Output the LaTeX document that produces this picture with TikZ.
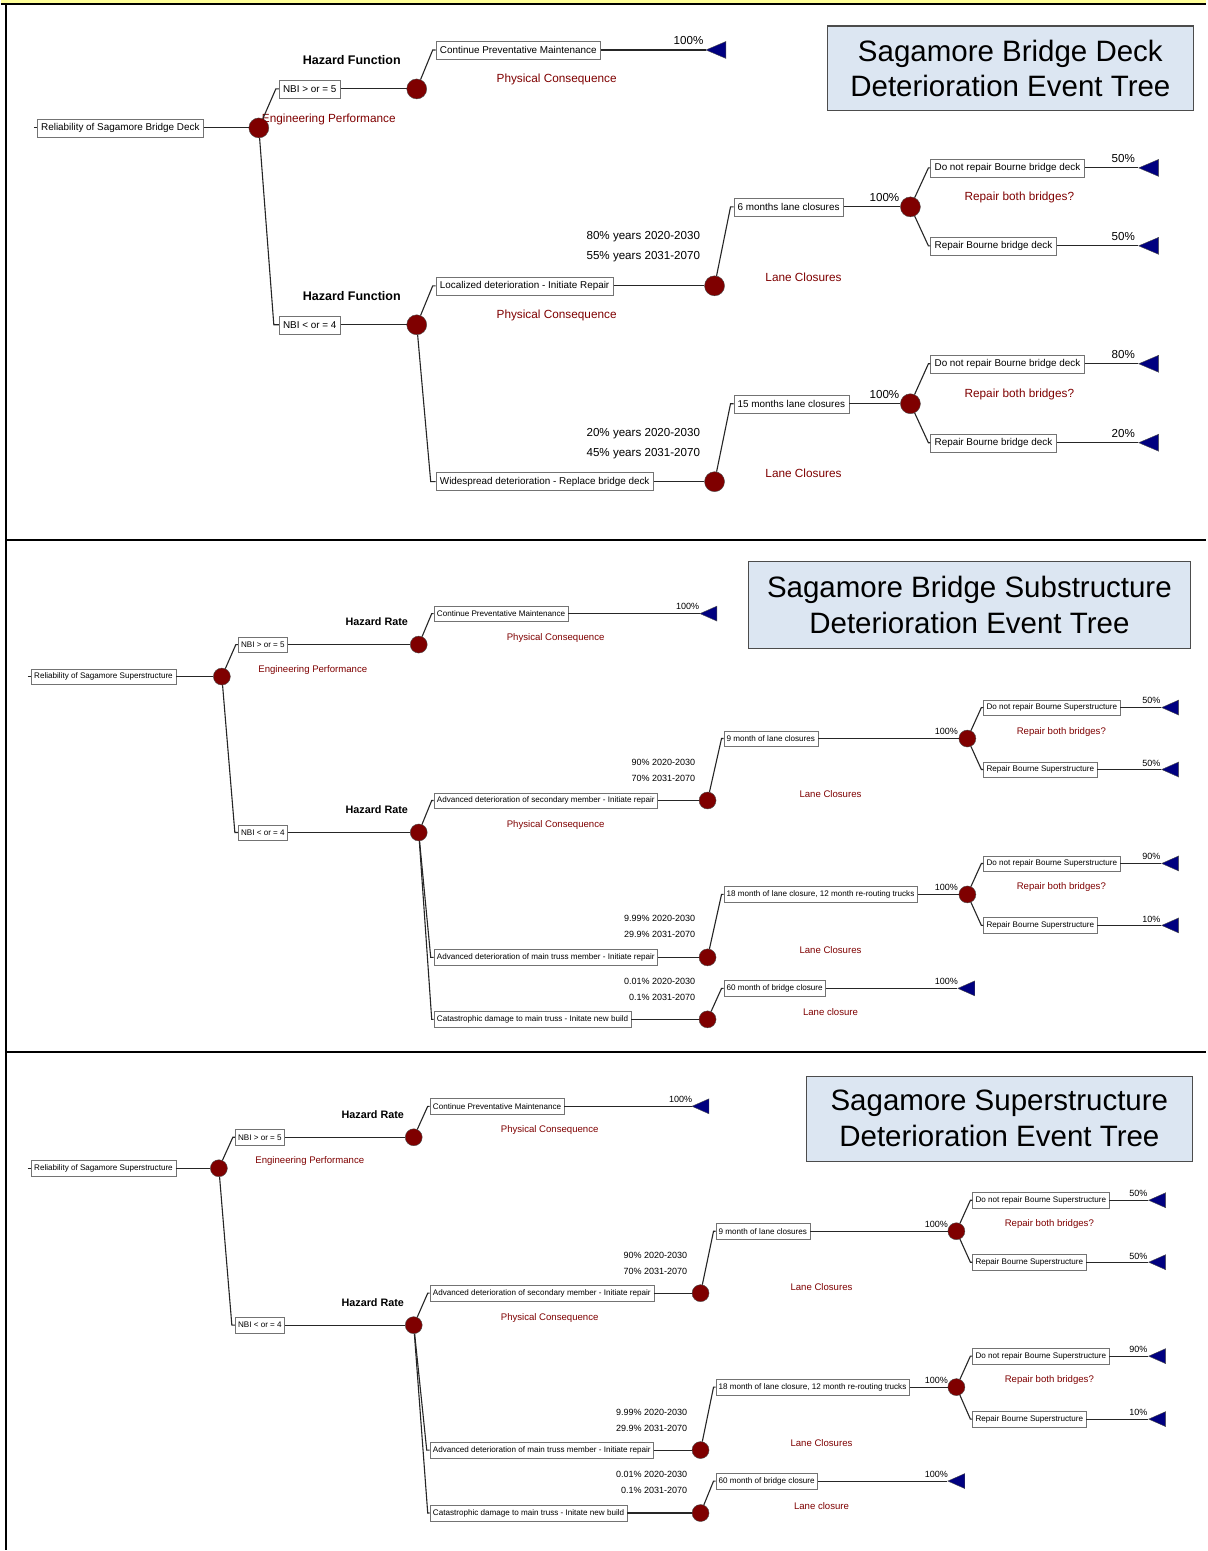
\documentclass[tikz,border=0pt]{standalone}
\usepackage{fontspec}
\setmainfont{Liberation Sans}
\usepackage{xcolor}
\definecolor{dark-red}{HTML}{7F0000}
\definecolor{deep-navy}{HTML}{000080}
\definecolor{pale-blue}{HTML}{DCE6F2}
\definecolor{pale-yellow}{HTML}{FFFF99}
\usepackage{tikz}
\usetikzlibrary{shapes.geometric}
\tikzset{br/.style = {draw=black!55, fill=white, anchor=west, inner xsep=4pt, inner ysep=0pt, minimum height=18pt, font=\fontsize{9.9}{11}\selectfont}}
\tikzset{brs/.style = {br, inner xsep=3pt, minimum height=15.5pt, font=\fontsize{8.1}{9}\selectfont}}
\tikzset{chance/.style = {circle, draw=black!70, fill=dark-red, minimum size=20pt, inner sep=0pt}}
\tikzset{chances/.style = {chance, minimum size=17pt}}
\tikzset{term/.style = {isosceles triangle, shape border rotate=180, isosceles triangle apex angle=60, isosceles triangle stretches, fill=deep-navy, draw=black!70, inner sep=0pt, minimum height=20pt, minimum width=17pt, anchor=apex}}
\tikzset{terms/.style = {term, minimum height=17pt, minimum width=15pt}}
\tikzset{cons/.style = {text=dark-red, font=\fontsize{11.8}{13}\selectfont}}
\tikzset{conss/.style = {text=dark-red, font=\fontsize{9.6}{11}\selectfont}}
\tikzset{haz/.style = {font=\bfseries\fontsize{12.5}{14}\selectfont}}
\tikzset{hazs/.style = {font=\bfseries\fontsize{10.8}{12}\selectfont}}
\tikzset{pct/.style = {font=\fontsize{11.6}{13}\selectfont}}
\tikzset{pcts/.style = {font=\fontsize{9}{10}\selectfont}}
\tikzset{prob/.style = {pct, anchor=east}}
\tikzset{probs/.style = {pcts, anchor=east}}
\tikzset{ln/.style = {line width=1.1pt, black!85}}
\tikzset{heading/.style = {draw=black!70, line width=1.1pt, fill=pale-blue, align=center, font=\fontsize{29.5}{36}\selectfont}}

\begin{document}
\begin{tikzpicture}[x=1pt, y=-1pt]

% frame
\fill[white] (0,0) rectangle (1206,1551);
\fill[pale-yellow] (0,0) rectangle (1206,4);
\draw[line width=2pt] (0,4.5) -- (1206,4.5);
\draw[line width=2pt] (5.5,4.5) -- (5.5,1551);
\draw[line width=2pt] (5.5,540) -- (1206,540);
\draw[line width=2pt] (5.5,1053) -- (1206,1053);

%%% deck tree
\node[heading, minimum width=366pt, minimum height=85pt] (dh) at (1010,68.5) {Sagamore Bridge Deck\\Deterioration Event Tree};

\coordinate (dk0) at (33,128);
\node[br] (db0) at (36,128) {Reliability of Sagamore Bridge Deck};
\node[chance] (dc0) at (258,128) {};
\coordinate (dk1) at (275,89);
\node[br] (db1) at (278,89) {NBI > or = 5};
\node[chance] (dc1) at (416,89) {};
\coordinate (dk2) at (432,50);
\node[br] (db2) at (435,50) {Continue Preventative Maintenance};
\node[term] (dt1) at (705,50) {};
\coordinate (dk3) at (273,325);
\node[br] (db3) at (278,325) {NBI < or = 4};
\node[chance] (dc2) at (416,325) {};
\coordinate (dk4) at (432,286);
\node[br] (db4) at (435,286) {Localized deterioration - Initiate Repair};
\node[chance] (dc3) at (714,286) {};
\coordinate (dk5) at (430,482);
\node[br] (db5) at (435,482) {Widespread deterioration - Replace bridge deck};
\node[chance] (dc4) at (714,482) {};
\coordinate (dk6) at (730,207);
\node[br] (db6) at (733,207) {6 months lane closures};
\node[chance] (dc5) at (910,207) {};
\coordinate (dk7) at (928,168);
\node[br] (db7) at (930,168) {Do not repair Bourne bridge deck};
\node[term] (dt2) at (1138,168) {};
\coordinate (dk8) at (928,246);
\node[br] (db8) at (930,246) {Repair Bourne bridge deck};
\node[term] (dt3) at (1138,246) {};
\coordinate (dk9) at (730,404);
\node[br] (db9) at (733,404) {15 months lane closures};
\node[chance] (dc6) at (910,404) {};
\coordinate (dk10) at (928,364);
\node[br] (db10) at (930,364) {Do not repair Bourne bridge deck};
\node[term] (dt4) at (1138,364) {};
\coordinate (dk11) at (928,443);
\node[br] (db11) at (930,443) {Repair Bourne bridge deck};
\node[term] (dt5) at (1138,443) {};

\node[haz] (dl1) at (351,60) {Hazard Function};
\node[haz] (dl2) at (351,296) {Hazard Function};
\node[cons] (dl3) at (328,120) {Engineering Performance};
\node[cons] (dl4) at (556,80) {Physical Consequence};
\node[cons] (dl5) at (556,316) {Physical Consequence};
\node[cons] (dl6) at (803,277) {Lane Closures};
\node[cons] (dl7) at (803,474) {Lane Closures};
\node[cons] (dl8) at (1019,198) {Repair both bridges?};
\node[cons] (dl9) at (1019,395) {Repair both bridges?};
\node[pct] (dp1) at (688,41) {100\%};
\node[pct] (dp2) at (884,198) {100\%};
\node[pct] (dp3) at (884,395) {100\%};
\node[pct] (dp4) at (1123,159) {50\%};
\node[pct] (dp5) at (1123,237) {50\%};
\node[pct] (dp6) at (1123,355) {80\%};
\node[pct] (dp7) at (1123,434) {20\%};
\node[prob] (dq1) at (703,237) {80\% years 2020-2030};
\node[prob] (dq2) at (703,257) {55\% years 2031-2070};
\node[prob] (dq3) at (703,434) {20\% years 2020-2030};
\node[prob] (dq4) at (703,454) {45\% years 2031-2070};

\draw[ln] (dk0) -- (db0.west);
\draw[ln] (db0) -- (dc0);
\draw[ln] (dc0) -- (dk1) -- (db1.west);
\draw[ln] (db1) -- (dc1);
\draw[ln] (dc1) -- (dk2) -- (db2.west);
\draw[ln] (db2) -- (dt1);
\draw[ln] (dc0) -- (dk3) -- (db3.west);
\draw[ln] (db3) -- (dc2);
\draw[ln] (dc2) -- (dk4) -- (db4.west);
\draw[ln] (db4) -- (dc3);
\draw[ln] (dc2) -- (dk5) -- (db5.west);
\draw[ln] (db5) -- (dc4);
\draw[ln] (dc3) -- (dk6) -- (db6.west);
\draw[ln] (db6) -- (dc5);
\draw[ln] (dc5) -- (dk7) -- (db7.west);
\draw[ln] (db7) -- (dt2);
\draw[ln] (dc5) -- (dk8) -- (db8.west);
\draw[ln] (db8) -- (dt3);
\draw[ln] (dc4) -- (dk9) -- (db9.west);
\draw[ln] (db9) -- (dc6);
\draw[ln] (dc6) -- (dk10) -- (db10.west);
\draw[ln] (db10) -- (dt4);
\draw[ln] (dc6) -- (dk11) -- (db11.west);
\draw[ln] (db11) -- (dt5);

%%% substructure tree
\node[heading, minimum width=442pt, minimum height=87pt] (sh) at (969,605.5) {Sagamore Bridge Substructure\\Deterioration Event Tree};

\coordinate (sk0) at (27,677);
\node[brs] (sb0) at (30,677) {Reliability of Sagamore Superstructure};
\node[chances] (sc0) at (221,677) {};
\coordinate (sk1) at (235,645);
\node[brs] (sb1) at (237,645) {NBI > or = 5};
\node[chances] (sc1) at (418,645) {};
\coordinate (sk2) at (431,614);
\node[brs] (sb2) at (433,614) {Continue Preventative Maintenance};
\node[terms] (st1) at (699,614) {};
\coordinate (sk3) at (234,833);
\node[brs] (sb3) at (237,833) {NBI < or = 4};
\node[chances] (sc2) at (418,833) {};
\coordinate (sk4) at (431,801);
\node[brs] (sb4) at (433,801) {Advanced deterioration of secondary member - Initiate repair};
\node[chances] (sc3) at (707,801) {};
\coordinate (sk5) at (430,958);
\node[brs] (sb5) at (433,958) {Advanced deterioration of main truss member - Initiate repair};
\node[chances] (sc4) at (707,958) {};
\coordinate (sk6) at (431,1020);
\node[brs] (sb6) at (433,1020) {Catastrophic damage to main truss - Initate new build};
\node[chances] (sc5) at (707,1020) {};
\coordinate (sk7) at (721,739);
\node[brs] (sb7) at (723,739) {9 month of lane closures};
\node[chances] (sc6) at (967,739) {};
\coordinate (sk8) at (981,708);
\node[brs] (sb8) at (983,708) {Do not repair Bourne Superstructure};
\node[terms] (st2) at (1161,708) {};
\coordinate (sk9) at (981,770);
\node[brs] (sb9) at (983,770) {Repair Bourne Superstructure};
\node[terms] (st3) at (1161,770) {};
\coordinate (sk10) at (721,895);
\node[brs] (sb10) at (723,895) {18 month of lane closure, 12 month re-routing trucks};
\node[chances] (sc7) at (967,895) {};
\coordinate (sk11) at (981,864);
\node[brs] (sb11) at (983,864) {Do not repair Bourne Superstructure};
\node[terms] (st4) at (1161,864) {};
\coordinate (sk12) at (981,926);
\node[brs] (sb12) at (983,926) {Repair Bourne Superstructure};
\node[terms] (st5) at (1161,926) {};
\coordinate (sk13) at (721,989);
\node[brs] (sb13) at (723,989) {60 month of bridge closure};
\node[terms] (st6) at (957,989) {};

\node[hazs] (sl1) at (376,622) {Hazard Rate};
\node[hazs] (sl2) at (376,810) {Hazard Rate};
\node[conss] (sl3) at (312,670) {Engineering Performance};
\node[conss] (sl4) at (555,638) {Physical Consequence};
\node[conss] (sl5) at (555,826) {Physical Consequence};
\node[conss] (sl6) at (830,795) {Lane Closures};
\node[conss] (sl7) at (830,951) {Lane Closures};
\node[conss] (sl8) at (830,1013) {Lane closure};
\node[conss] (sl9) at (1061,732) {Repair both bridges?};
\node[conss] (sl10) at (1061,888) {Repair both bridges?};
\node[pcts] (sp1) at (687,607) {100\%};
\node[pcts] (sp2) at (946,732) {100\%};
\node[pcts] (sp3) at (946,888) {100\%};
\node[pcts] (sp4) at (946,982) {100\%};
\node[pcts] (sp5) at (1151,701) {50\%};
\node[pcts] (sp6) at (1151,764) {50\%};
\node[pcts] (sp7) at (1151,857) {90\%};
\node[pcts] (sp8) at (1151,920) {10\%};
\node[probs] (sq1) at (698,763) {90\% 2020-2030};
\node[probs] (sq2) at (698,779) {70\% 2031-2070};
\node[probs] (sq3) at (698,919) {9.99\% 2020-2030};
\node[probs] (sq4) at (698,935) {29.9\% 2031-2070};
\node[probs] (sq5) at (698,982) {0.01\% 2020-2030};
\node[probs] (sq6) at (698,998) {0.1\% 2031-2070};

\draw[ln] (sk0) -- (sb0.west);
\draw[ln] (sb0) -- (sc0);
\draw[ln] (sc0) -- (sk1) -- (sb1.west);
\draw[ln] (sb1) -- (sc1);
\draw[ln] (sc1) -- (sk2) -- (sb2.west);
\draw[ln] (sb2) -- (st1);
\draw[ln] (sc0) -- (sk3) -- (sb3.west);
\draw[ln] (sb3) -- (sc2);
\draw[ln] (sc2) -- (sk4) -- (sb4.west);
\draw[ln] (sb4) -- (sc3);
\draw[ln] (sc2) -- (sk5) -- (sb5.west);
\draw[ln] (sb5) -- (sc4);
\draw[ln] (sc2) -- (sk6) -- (sb6.west);
\draw[ln] (sb6) -- (sc5);
\draw[ln] (sc3) -- (sk7) -- (sb7.west);
\draw[ln] (sb7) -- (sc6);
\draw[ln] (sc6) -- (sk8) -- (sb8.west);
\draw[ln] (sb8) -- (st2);
\draw[ln] (sc6) -- (sk9) -- (sb9.west);
\draw[ln] (sb9) -- (st3);
\draw[ln] (sc4) -- (sk10) -- (sb10.west);
\draw[ln] (sb10) -- (sc7);
\draw[ln] (sc7) -- (sk11) -- (sb11.west);
\draw[ln] (sb11) -- (st4);
\draw[ln] (sc7) -- (sk12) -- (sb12.west);
\draw[ln] (sb12) -- (st5);
\draw[ln] (sc5) -- (sk13) -- (sb13.west);
\draw[ln] (sb13) -- (st6);

%%% superstructure tree
\node[heading, minimum width=386pt, minimum height=85pt] (uh) at (999,1119.5) {Sagamore Superstructure\\Deterioration Event Tree};

\coordinate (uk0) at (27,1169);
\node[brs] (ub0) at (30,1169) {Reliability of Sagamore Superstructure};
\node[chances] (uc0) at (218,1169) {};
\coordinate (uk1) at (232,1138);
\node[brs] (ub1) at (234,1138) {NBI > or = 5};
\node[chances] (uc1) at (413,1138) {};
\coordinate (uk2) at (427,1107);
\node[brs] (ub2) at (429,1107) {Continue Preventative Maintenance};
\node[terms] (ut1) at (691,1107) {};
\coordinate (uk3) at (231,1326);
\node[brs] (ub3) at (234,1326) {NBI < or = 4};
\node[chances] (uc2) at (413,1326) {};
\coordinate (uk4) at (427,1294);
\node[brs] (ub4) at (429,1294) {Advanced deterioration of secondary member - Initiate repair};
\node[chances] (uc3) at (700,1294) {};
\coordinate (uk5) at (426,1451);
\node[brs] (ub5) at (429,1451) {Advanced deterioration of main truss member - Initiate repair};
\node[chances] (uc4) at (700,1451) {};
\coordinate (uk6) at (427,1514);
\node[brs] (ub6) at (429,1514) {Catastrophic damage to main truss - Initate new build};
\node[chances] (uc5) at (700,1514) {};
\coordinate (uk7) at (713,1232);
\node[brs] (ub7) at (715,1232) {9 month of lane closures};
\node[chances] (uc6) at (956,1232) {};
\coordinate (uk8) at (970,1201);
\node[brs] (ub8) at (972,1201) {Do not repair Bourne Superstructure};
\node[terms] (ut2) at (1148,1201) {};
\coordinate (uk9) at (970,1263);
\node[brs] (ub9) at (972,1263) {Repair Bourne Superstructure};
\node[terms] (ut3) at (1148,1263) {};
\coordinate (uk10) at (713,1388);
\node[brs] (ub10) at (715,1388) {18 month of lane closure, 12 month re-routing trucks};
\node[chances] (uc7) at (956,1388) {};
\coordinate (uk11) at (970,1357);
\node[brs] (ub11) at (972,1357) {Do not repair Bourne Superstructure};
\node[terms] (ut4) at (1148,1357) {};
\coordinate (uk12) at (970,1420);
\node[brs] (ub12) at (972,1420) {Repair Bourne Superstructure};
\node[terms] (ut5) at (1148,1420) {};
\coordinate (uk13) at (713,1482);
\node[brs] (ub13) at (715,1482) {60 month of bridge closure};
\node[terms] (ut6) at (947,1482) {};

\node[hazs] (ul1) at (372,1115) {Hazard Rate};
\node[hazs] (ul2) at (372,1303) {Hazard Rate};
\node[conss] (ul3) at (309,1162) {Engineering Performance};
\node[conss] (ul4) at (549,1131) {Physical Consequence};
\node[conss] (ul5) at (549,1319) {Physical Consequence};
\node[conss] (ul6) at (821,1288) {Lane Closures};
\node[conss] (ul7) at (821,1444) {Lane Closures};
\node[conss] (ul8) at (821,1507) {Lane closure};
\node[conss] (ul9) at (1049,1225) {Repair both bridges?};
\node[conss] (ul10) at (1049,1381) {Repair both bridges?};
\node[pcts] (up1) at (680,1100) {100\%};
\node[pcts] (up2) at (936,1225) {100\%};
\node[pcts] (up3) at (936,1381) {100\%};
\node[pcts] (up4) at (936,1475) {100\%};
\node[pcts] (up5) at (1138,1194) {50\%};
\node[pcts] (up6) at (1138,1257) {50\%};
\node[pcts] (up7) at (1138,1350) {90\%};
\node[pcts] (up8) at (1138,1413) {10\%};
\node[probs] (uq1) at (690,1256) {90\% 2020-2030};
\node[probs] (uq2) at (690,1272) {70\% 2031-2070};
\node[probs] (uq3) at (690,1413) {9.99\% 2020-2030};
\node[probs] (uq4) at (690,1429) {29.9\% 2031-2070};
\node[probs] (uq5) at (690,1475) {0.01\% 2020-2030};
\node[probs] (uq6) at (690,1491) {0.1\% 2031-2070};

\draw[ln] (uk0) -- (ub0.west);
\draw[ln] (ub0) -- (uc0);
\draw[ln] (uc0) -- (uk1) -- (ub1.west);
\draw[ln] (ub1) -- (uc1);
\draw[ln] (uc1) -- (uk2) -- (ub2.west);
\draw[ln] (ub2) -- (ut1);
\draw[ln] (uc0) -- (uk3) -- (ub3.west);
\draw[ln] (ub3) -- (uc2);
\draw[ln] (uc2) -- (uk4) -- (ub4.west);
\draw[ln] (ub4) -- (uc3);
\draw[ln] (uc2) -- (uk5) -- (ub5.west);
\draw[ln] (ub5) -- (uc4);
\draw[ln] (uc2) -- (uk6) -- (ub6.west);
\draw[ln] (ub6) -- (uc5);
\draw[ln] (uc3) -- (uk7) -- (ub7.west);
\draw[ln] (ub7) -- (uc6);
\draw[ln] (uc6) -- (uk8) -- (ub8.west);
\draw[ln] (ub8) -- (ut2);
\draw[ln] (uc6) -- (uk9) -- (ub9.west);
\draw[ln] (ub9) -- (ut3);
\draw[ln] (uc4) -- (uk10) -- (ub10.west);
\draw[ln] (ub10) -- (uc7);
\draw[ln] (uc7) -- (uk11) -- (ub11.west);
\draw[ln] (ub11) -- (ut4);
\draw[ln] (uc7) -- (uk12) -- (ub12.west);
\draw[ln] (ub12) -- (ut5);
\draw[ln] (uc5) -- (uk13) -- (ub13.west);
\draw[ln] (ub13) -- (ut6);

\end{tikzpicture}
\end{document}
